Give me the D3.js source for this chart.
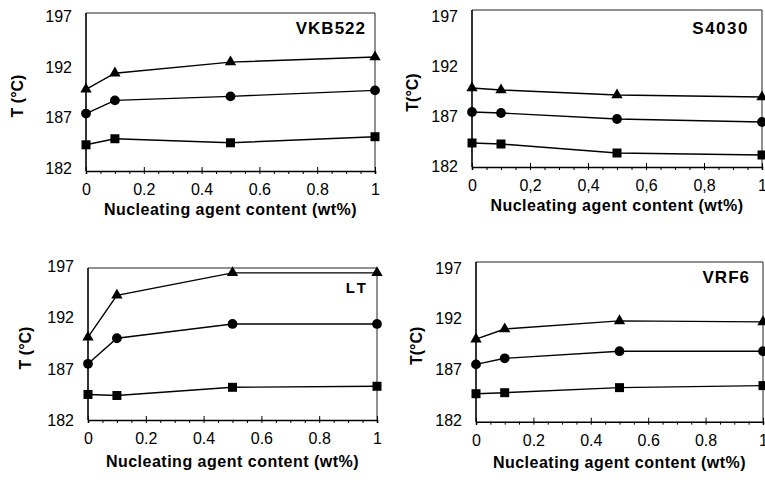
<!DOCTYPE html>
<html>
  <head>
    <meta charset="utf-8">
    <script src="https://d3js.org/d3.v7.min.js"></script>
    <style>
      body { margin: 0; background: white; }
      svg { display: block; font-family: 'Liberation Sans', Arial, sans-serif; }
    </style>
  </head>
  <body>
    <div id="wrapper"></div>
    <script>

// nucleating agent content (wt%) where each sample was measured
const xContent = [0, 0.1, 0.5, 1]
const xTicks = [0, 0.2, 0.4, 0.6, 0.8, 1]
const yTicks = [182, 187, 192, 197]

// temperatures (°C)
const vkbTri  = [189.8, 191.4, 192.5, 193.0]
const vkbCirc = [187.4, 188.7, 189.1, 189.7]
const vkbSq   = [184.3, 184.9, 184.5, 185.1]

const s4030Tri  = [189.8, 189.6, 189.1, 188.9]
const s4030Circ = [187.4, 187.3, 186.7, 186.4]
const s4030Sq   = [184.3, 184.2, 183.3, 183.1]

const ltTri  = [190.1, 194.2, 196.4, 196.4]
const ltCirc = [187.5, 190.0, 191.4, 191.4]
const ltSq   = [184.5, 184.4, 185.2, 185.3]

const vrfTri  = [190.0, 191.0, 191.8, 191.7]
const vrfCirc = [187.5, 188.1, 188.8, 188.8]
const vrfSq   = [184.6, 184.7, 185.2, 185.4]

const W = 765, H = 483

// frame boxes are placed by hand to follow the scanned page
const panels = [
  {name: "VKB522", tri: vkbTri, circ: vkbCirc, sq: vkbSq,
   left: 86, right: 375, top: 13, bottom: 171, yr: [168, 16.7],
   ytitle: "T (°C)", ytx: 17, comma: false, tgap: 44,
   lab: {x: 366, y: 34, size: 17, sp: 1}},
  {name: "S4030", tri: s4030Tri, circ: s4030Circ, sq: s4030Sq,
   left: 472, right: 762, top: 10, bottom: 167, yr: [166, 16],
   ytitle: "T(°C)", ytx: 412, comma: true, tgap: 44,
   lab: {x: 749, y: 34, size: 17, sp: 1.5}},
  {name: "LT", tri: ltTri, circ: ltCirc, sq: ltSq,
   left: 88, right: 377, top: 268, bottom: 420, yr: [420, 266.7],
   ytitle: "T (°C)", ytx: 25, comma: false, tgap: 47,
   lab: {x: 369, y: 293, size: 15, sp: 3}},
  {name: "VRF6", tri: vrfTri, circ: vrfCirc, sq: vrfSq,
   left: 476, right: 763, top: 262, bottom: 421.7, yr: [420, 268.3],
   ytitle: "T(°C)", ytx: 416, comma: false, tgap: 46,
   lab: {x: 750, y: 283, size: 17, sp: 1}},
]

const svg = d3.select("#wrapper").append("svg")
  .attr("width", W)
  .attr("height", H)

svg.append("rect").attr("width", W).attr("height", H).attr("fill", "white")

function fmtX(comma) {
  return d => {
    if (d === 0 || d === 1) return String(d)
    const s = d.toFixed(1)
    return comma ? s.replace(".", ",") : s
  }
}

panels.forEach(p => {
  const x = d3.scaleLinear().domain([0, 1]).range([p.left, p.right])
  const y = d3.scaleLinear().domain([182, 197]).range(p.yr)
  const g = svg.append("g")

  // thin top and right frame
  g.append("path")
    .attr("d", `M${p.left},${p.top}H${p.right}V${p.bottom}`)
    .attr("fill", "none")
    .attr("stroke", "#222")
    .attr("stroke-width", 1)

  // left axis line
  g.append("line")
    .attr("x1", p.left).attr("x2", p.left)
    .attr("y1", p.top).attr("y2", p.bottom)
    .attr("stroke", "black").attr("stroke-width", 1.6)

  // y tick labels
  const ya = g.append("g")
    .attr("transform", `translate(${p.left},0)`)
    .call(d3.axisLeft(y).tickValues(yTicks).tickSize(0).tickPadding(14))
  ya.select(".domain").remove()
  ya.selectAll("text").attr("font-size", 16).attr("font-family", null).attr("fill", "black")

  // x axis: minor ticks every 0.05, labelled ticks every 0.2
  const xm = g.append("g")
    .attr("transform", `translate(0,${p.bottom})`)
    .call(d3.axisBottom(x).tickValues(d3.range(21).map(i => i / 20)).tickSize(3).tickFormat(""))
  xm.select(".domain").attr("stroke-width", 1.6)
  xm.selectAll(".tick line").attr("stroke-width", 1)

  const xa = g.append("g")
    .attr("transform", `translate(0,${p.bottom})`)
    .call(d3.axisBottom(x).tickValues(xTicks).tickSizeInner(-4).tickSizeOuter(0)
      .tickPadding(13).tickFormat(fmtX(p.comma)))
  xa.select(".domain").remove()
  xa.selectAll("text").attr("font-size", 16).attr("font-family", null).attr("fill", "black")

  // axis titles
  g.append("text")
    .attr("x", (p.left + p.right) / 2)
    .attr("y", p.bottom + p.tgap)
    .attr("text-anchor", "middle")
    .attr("font-size", 16)
    .attr("font-weight", "bold")
    .attr("letter-spacing", 0.5)
    .text("Nucleating agent content (wt%)")

  g.append("text")
    .attr("transform", `translate(${p.ytx},${(p.top + p.bottom) / 2 + 4}) rotate(-90)`)
    .attr("text-anchor", "middle")
    .attr("dy", "0.35em")
    .attr("font-size", 16)
    .attr("font-weight", "bold")
    .text(p.ytitle)

  // sample name
  g.append("text")
    .attr("x", p.lab.x).attr("y", p.lab.y)
    .attr("text-anchor", "end")
    .attr("font-size", p.lab.size)
    .attr("font-weight", "bold")
    .attr("letter-spacing", p.lab.sp)
    .text(p.name)

  const line = d3.line().x((d, i) => x(xContent[i])).y(d => y(d))

  const series = [
    {vals: p.tri, sym: d3.symbolTriangle, size: 56},
    {vals: p.circ, sym: d3.symbolCircle, size: 75},
    {vals: p.sq, sym: d3.symbolSquare, size: 81},
  ]

  series.forEach(s => {
    g.append("path")
      .attr("d", line(s.vals))
      .attr("fill", "none")
      .attr("stroke", "black")
      .attr("stroke-width", 1.4)

    g.selectAll(null)
      .data(s.vals)
      .enter()
      .append("path")
      .attr("d", d3.symbol().type(s.sym).size(s.size))
      .attr("transform", (d, i) => `translate(${x(xContent[i])},${y(d)})`)
      .attr("fill", "black")
  })
})

    </script>
  </body>
</html>
